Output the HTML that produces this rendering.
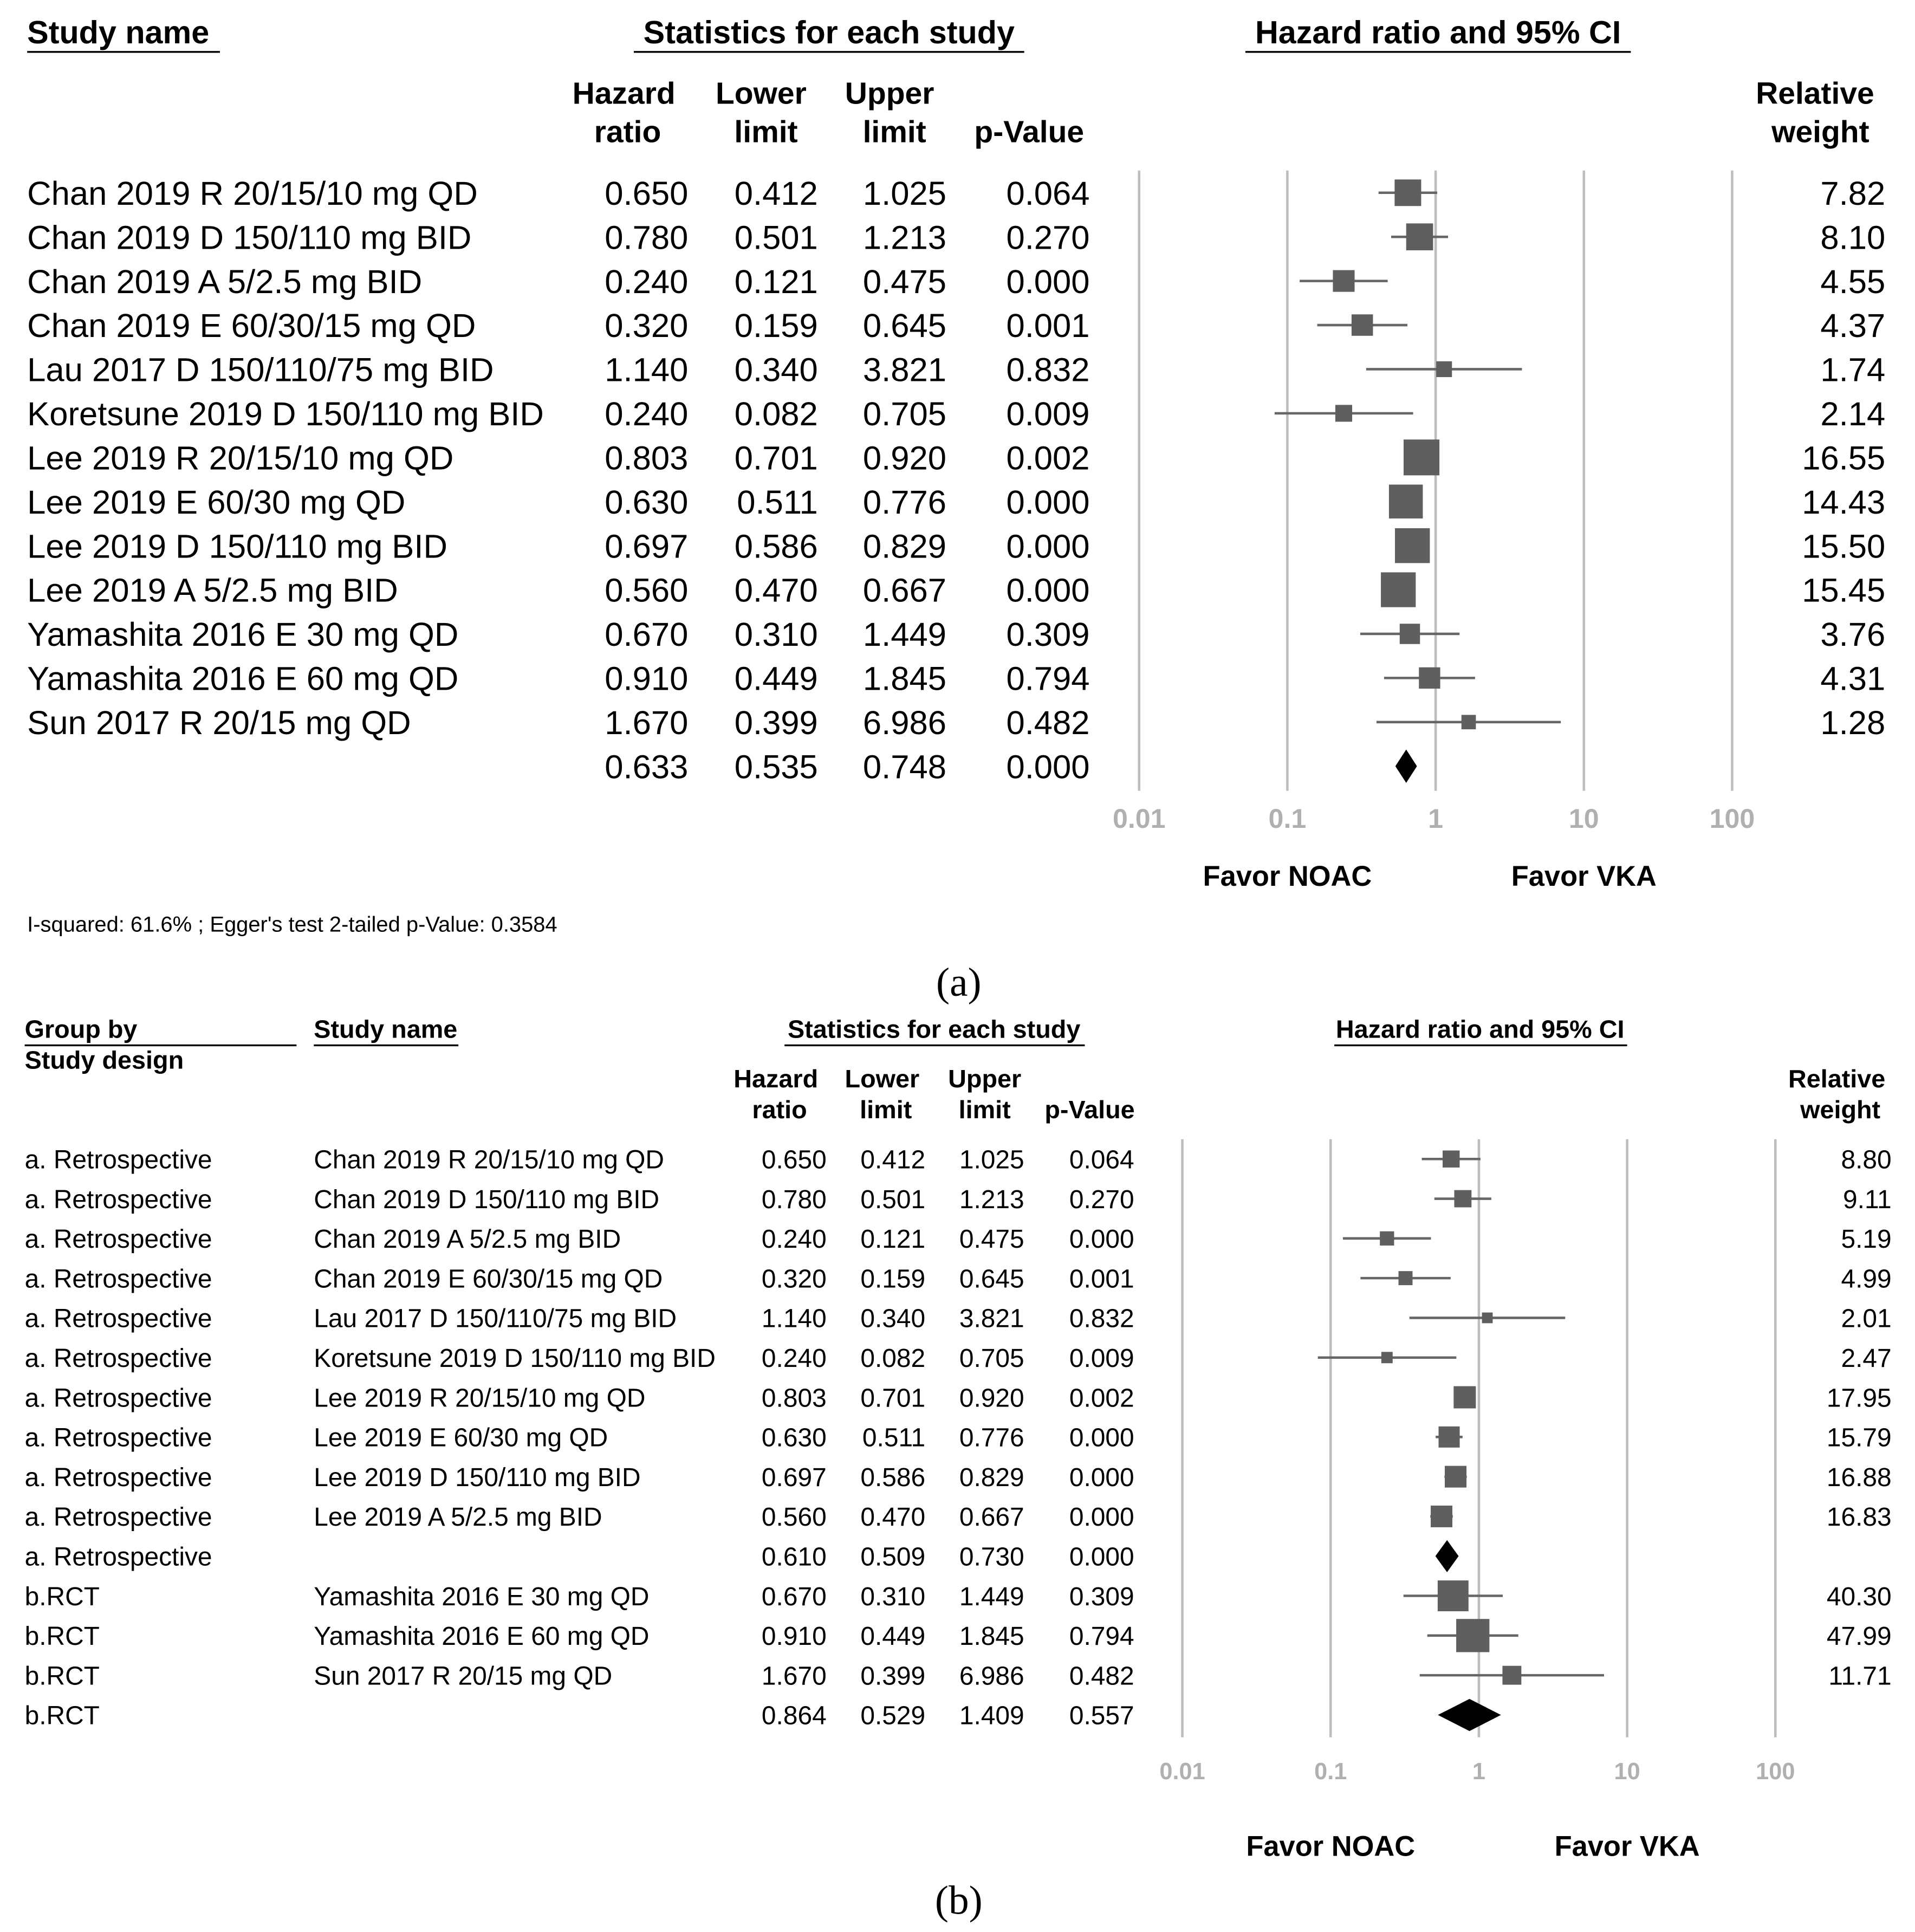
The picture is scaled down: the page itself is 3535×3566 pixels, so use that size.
<!DOCTYPE html>
<html><head><meta charset="utf-8"><style>
html,body{margin:0;padding:0;background:#fff}
svg{display:block}
text{font-family:"Liberation Sans",Arial,sans-serif}
.b{font-weight:bold}
</style></head><body>
<svg id="chart" width="3535" height="3566" viewBox="0 0 1550 1563.6" preserveAspectRatio="none" xmlns="http://www.w3.org/2000/svg">
<g id="pa">
<text class="b" x="22" y="35" font-size="26">Study name</text>
<line x1="22" y1="42" x2="178" y2="42" stroke="#000" stroke-width="1.5"/>
<text class="b" x="671" y="35" font-size="26" text-anchor="middle">Statistics for each study</text>
<line x1="513" y1="42" x2="829" y2="42" stroke="#000" stroke-width="1.5"/>
<text class="b" x="1164" y="35" font-size="26" text-anchor="middle">Hazard ratio and 95% CI</text>
<line x1="1008" y1="42" x2="1320" y2="42" stroke="#000" stroke-width="1.5"/>
<g class="b" font-size="25" text-anchor="middle">
<text x="505" y="84" class="b">Hazard</text><text x="508" y="115" class="b">ratio</text>
<text x="616" y="84" class="b">Lower</text><text x="620" y="115" class="b">limit</text>
<text x="720" y="84" class="b">Upper</text><text x="724" y="115" class="b">limit</text>
<text x="833" y="115" class="b">p-Value</text>
<text x="1517" y="84" class="b" text-anchor="end">Relative</text><text x="1513" y="115" class="b" text-anchor="end">weight</text>
</g>
<text x="22" y="754" font-size="17.5">I-squared: 61.6% ; Egger's test 2-tailed p-Value: 0.3584</text>
<text x="776" y="806" font-size="33" text-anchor="middle" style="font-family:'Liberation Serif',serif">(a)</text>
</g>
<g id="pb">
<text class="b" x="20" y="840" font-size="20.5">Group by</text>
<line x1="20" y1="846" x2="240" y2="846" stroke="#000" stroke-width="1.5"/>
<text class="b" x="20" y="865" font-size="20.5">Study design</text>
<text class="b" x="254" y="840" font-size="20.5">Study name</text>
<line x1="254" y1="846" x2="371" y2="846" stroke="#000" stroke-width="1.5"/>
<text class="b" x="756" y="840" font-size="20.5" text-anchor="middle">Statistics for each study</text>
<line x1="635" y1="846" x2="878" y2="846" stroke="#000" stroke-width="1.5"/>
<text class="b" x="1198" y="840" font-size="20.5" text-anchor="middle">Hazard ratio and 95% CI</text>
<line x1="1080" y1="846" x2="1317" y2="846" stroke="#000" stroke-width="1.5"/>
<g font-size="20.5" text-anchor="middle">
<text x="628" y="880" class="b">Hazard</text><text x="631" y="905" class="b">ratio</text>
<text x="714" y="880" class="b">Lower</text><text x="717" y="905" class="b">limit</text>
<text x="797" y="880" class="b">Upper</text><text x="797" y="905" class="b">limit</text>
<text x="882" y="905" class="b">p-Value</text>
<text x="1526" y="880" class="b" text-anchor="end">Relative</text><text x="1522" y="905" class="b" text-anchor="end">weight</text>
</g>
<text x="776" y="1549" font-size="33" text-anchor="middle" style="font-family:'Liberation Serif',serif">(b)</text>
</g>
</svg>
<script>
var NS="http://www.w3.org/2000/svg";
// Panel A data
var namesA=["Chan 2019 R 20/15/10 mg QD","Chan 2019 D 150/110 mg BID","Chan 2019 A 5/2.5 mg BID","Chan 2019 E 60/30/15 mg QD","Lau 2017 D 150/110/75 mg BID","Koretsune 2019 D 150/110 mg BID","Lee 2019 R 20/15/10 mg QD","Lee 2019 E 60/30 mg QD","Lee 2019 D 150/110 mg BID","Lee 2019 A 5/2.5 mg BID","Yamashita 2016 E 30 mg QD","Yamashita 2016 E 60 mg QD","Sun 2017 R 20/15 mg QD"];
var hrA=[0.650,0.780,0.240,0.320,1.140,0.240,0.803,0.630,0.697,0.560,0.670,0.910,1.670];
var loA=[0.412,0.501,0.121,0.159,0.340,0.082,0.701,0.511,0.586,0.470,0.310,0.449,0.399];
var upA=[1.025,1.213,0.475,0.645,3.821,0.705,0.920,0.776,0.829,0.667,1.449,1.845,6.986];
var pA=["0.064","0.270","0.000","0.001","0.832","0.009","0.002","0.000","0.000","0.000","0.309","0.794","0.482"];
var wA=[7.82,8.10,4.55,4.37,1.74,2.14,16.55,14.43,15.50,15.45,3.76,4.31,1.28];
var sumA=[0.633,0.535,0.748]; var sumPA="0.000";
// Panel B data
var groupsB=["a. Retrospective","a. Retrospective","a. Retrospective","a. Retrospective","a. Retrospective","a. Retrospective","a. Retrospective","a. Retrospective","a. Retrospective","a. Retrospective","a. Retrospective","b.RCT","b.RCT","b.RCT","b.RCT"];
var namesB=["Chan 2019 R 20/15/10 mg QD","Chan 2019 D 150/110 mg BID","Chan 2019 A 5/2.5 mg BID","Chan 2019 E 60/30/15 mg QD","Lau 2017 D 150/110/75 mg BID","Koretsune 2019 D 150/110 mg BID","Lee 2019 R 20/15/10 mg QD","Lee 2019 E 60/30 mg QD","Lee 2019 D 150/110 mg BID","Lee 2019 A 5/2.5 mg BID","","Yamashita 2016 E 30 mg QD","Yamashita 2016 E 60 mg QD","Sun 2017 R 20/15 mg QD",""];
var hrB=[0.650,0.780,0.240,0.320,1.140,0.240,0.803,0.630,0.697,0.560,0.610,0.670,0.910,1.670,0.864];
var loB=[0.412,0.501,0.121,0.159,0.340,0.082,0.701,0.511,0.586,0.470,0.509,0.310,0.449,0.399,0.529];
var upB=[1.025,1.213,0.475,0.645,3.821,0.705,0.920,0.776,0.829,0.667,0.730,1.449,1.845,6.986,1.409];
var pB=["0.064","0.270","0.000","0.001","0.832","0.009","0.002","0.000","0.000","0.000","0.000","0.309","0.794","0.482","0.557"];
var wB=[8.80,9.11,5.19,4.99,2.01,2.47,17.95,15.79,16.88,16.83,null,40.30,47.99,11.71,null];
var ticks=[0.01,0.1,1,10,100];
var tickLabels=["0.01","0.1","1","10","100"];

function el(tag,attrs,parent,txt){var e=document.createElementNS(NS,tag);for(var k in attrs)e.setAttribute(k,attrs[k]);if(txt!==undefined)e.textContent=txt;parent.appendChild(e);return e;}
function fmt(v){return v.toFixed(3);}

function drawPanel(g,cfg){
  var xs=function(v){return cfg.x0+cfg.dec*(Math.log10(v)+2);};
  var ys=function(i){return cfg.y0+cfg.dy*i;};
  ticks.forEach(function(t,i){
    var l=el('line',{x1:xs(t),x2:xs(t),y1:cfg.gTop,y2:cfg.gBot,stroke:'#bdbdbd','stroke-width':2},g);
    
    
    var tx=el('text',{x:xs(t),y:cfg.tickY,'font-size':cfg.tickFs,'text-anchor':'middle',fill:'#b0b0b0','font-weight':'bold'},g,tickLabels[i]);
    
    
  });
  var f1=el('text',{x:xs(0.1),y:cfg.favY,'font-size':cfg.favFs,'text-anchor':'middle','font-weight':'bold'},g,'Favor NOAC');
  
  
  var f2=el('text',{x:xs(10),y:cfg.favY,'font-size':cfg.favFs,'text-anchor':'middle','font-weight':'bold'},g,'Favor VKA');
  
  
  for(var i=0;i<cfg.hr.length;i++){
    var y=ys(i), by=y+cfg.fs*0.36;
    var row=el('g',{},g);
    
    
    if(cfg.groups){el('text',{x:cfg.gx,y:by,'font-size':cfg.fs},row,cfg.groups[i]);}
    if(cfg.names[i])el('text',{x:cfg.nx,y:by,'font-size':cfg.fs},row,cfg.names[i]);
    el('text',{x:cfg.cols[0],y:by,'font-size':cfg.fs,'text-anchor':'end'},row,fmt(cfg.hr[i]));
    el('text',{x:cfg.cols[1],y:by,'font-size':cfg.fs,'text-anchor':'end'},row,fmt(cfg.lo[i]));
    el('text',{x:cfg.cols[2],y:by,'font-size':cfg.fs,'text-anchor':'end'},row,fmt(cfg.up[i]));
    el('text',{x:cfg.cols[3],y:by,'font-size':cfg.fs,'text-anchor':'end'},row,cfg.p[i]);
    var w=cfg.w[i];
    if(w===null||w===undefined){
      var h=cfg.dh/2, xl=xs(cfg.lo[i]), xr=xs(cfg.up[i]), xc=xs(cfg.hr[i]);
      var d=el('polygon',{points:xl+','+y+' '+xc+','+(y-h)+' '+xr+','+y+' '+xc+','+(y+h),fill:'#000'},g);
      
      
    } else {
      el('text',{x:cfg.wx,y:by,'font-size':cfg.fs,'text-anchor':'end'},row,w.toFixed(2));
      var ci=el('line',{x1:xs(cfg.lo[i]),x2:xs(cfg.up[i]),y1:y,y2:y,stroke:'#666','stroke-width':2},g);
      
      
      var s=cfg.sz(w);
      var r=el('rect',{x:xs(cfg.hr[i])-s/2,y:y-s/2,width:s,height:s,fill:'#5f5f5f'},g);
      
      
    }
  }
}
var wA2=wA.concat([null]);
drawPanel(document.getElementById('pa'),{x0:922,dec:120,y0:156,dy:35.7,gTop:138,gBot:640,tickY:670,tickFs:22,favY:717,favFs:23,fs:27,
  names:namesA.concat([""]),hr:hrA.concat([sumA[0]]),lo:loA.concat([sumA[1]]),up:upA.concat([sumA[2]]),p:pA.concat([sumPA]),w:wA2,
  nx:22,cols:[557,662,766,882],wx:1526,dh:27,sz:function(w){return 5+5.9*Math.sqrt(w);}});
drawPanel(document.getElementById('pb'),{x0:957,dec:120,y0:938,dy:32.14,gTop:922,gBot:1406,tickY:1440,tickFs:19,favY:1502,favFs:23,fs:21,
  groups:groupsB,names:namesB,hr:hrB,lo:loB,up:upB,p:pB,w:wB,
  gx:20,nx:254,cols:[669,749,829,918],wx:1531,dh:26,sz:function(w){return 4+3.3*Math.sqrt(w);}});
</script>
</body></html>
